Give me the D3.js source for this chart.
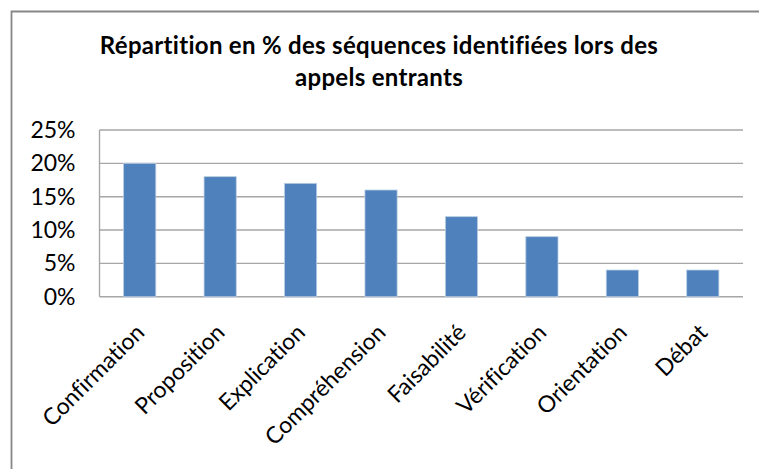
<!DOCTYPE html>
<html>
<head>
<meta charset="utf-8">
<script src="https://cdn.jsdelivr.net/npm/d3@7"></script>
<style>
  body { margin: 0; background: #fff; }
  text { font-family: Lato, "Open Sans", sans-serif; fill: #000; font-variant-ligatures: none; }
</style>
</head>
<body>
<div id="chart"></div>
<script>
// données du graphique
var categories = ['Confirmation', 'Proposition', 'Explication', 'Compréhension',
                  'Faisabilité', 'Vérification', 'Orientation', 'Débat'];
var values = [20, 18, 17, 16, 12, 9, 4, 4];
var yTicks = [0, 5, 10, 15, 20, 25];
var titleLines = ['Répartition en % des séquences identifiées lors des', 'appels entrants'];

var width = 759, height = 469;
var plot = { left: 99.5, right: 743, top: 130, bottom: 296.7 };

var svg = d3.select('#chart')
            .append('svg')
            .attr('width', width)
            .attr('height', height);

svg.append('rect')
   .attr('width', width).attr('height', height)
   .attr('fill', '#fff');

// cadre extérieur (coupé à droite et en bas)
svg.append('path')
   .attr('d', 'M11.5,' + (height + 5) + 'V11.5H' + (width + 5))
   .attr('fill', 'none')
   .attr('stroke', '#878787')
   .attr('stroke-width', 1.8);

// titre
svg.append('text')
   .attr('x', 379)
   .attr('y', 53.5)
   .attr('text-anchor', 'middle')
   .style('font-weight', 'bold')
   .style('font-size', '24px')
   .style('letter-spacing', '0.3px')
   .selectAll('tspan')
   .data(titleLines)
   .enter()
   .append('tspan')
   .attr('x', 379)
   .attr('dy', function(d, i){ return i == 0 ? 0 : 32; })
   .text(function(d){ return d; });

var x = d3.scaleBand()
          .domain(categories)
          .range([plot.left, plot.right])
          .paddingInner(0.6)
          .paddingOuter(0.3);

var y = d3.scaleLinear()
          .domain([0, 25])
          .range([plot.bottom, plot.top]);

// lignes de quadrillage
svg.append('g')
   .selectAll('line')
   .data(yTicks)
   .enter()
   .append('line')
   .attr('x1', plot.left)
   .attr('x2', plot.right)
   .attr('y1', function(d){ return y(d); })
   .attr('y2', function(d){ return y(d); })
   .attr('stroke', '#a6a6a6')
   .attr('stroke-width', 1.4);

// axe vertical
svg.append('g')
   .attr('transform', 'translate(' + (plot.left - 24) + ',0)')
   .call(d3.axisLeft(y).tickValues(yTicks).tickSize(0).tickPadding(0)
           .tickFormat(function(d){ return d + '%'; }))
   .call(function(g){ g.select('.domain').remove(); })
   .selectAll('text')
   .style('font-size', '23px')
   .attr('font-family', null);

svg.append('line')
   .attr('x1', plot.left).attr('x2', plot.left)
   .attr('y1', plot.top).attr('y2', plot.bottom)
   .attr('stroke', '#a6a6a6')
   .attr('stroke-width', 1.4);

// barres
svg.append('g')
   .selectAll('rect')
   .data(values)
   .enter()
   .append('rect')
   .attr('x', function(d, i){ return x(categories[i]); })
   .attr('y', function(d){ return y(d); })
   .attr('width', x.bandwidth())
   .attr('height', function(d){ return y(0) - y(d); })
   .attr('fill', '#4f81bd')
   .attr('stroke', '#b8cce4')
   .attr('stroke-width', 0.8);

// étiquettes des catégories
svg.append('g')
   .selectAll('text')
   .data(categories)
   .enter()
   .append('text')
   .attr('text-anchor', 'end')
   .attr('transform', function(d){
       return 'translate(' + (x(d) + x.bandwidth() / 2 + 6) + ',334) rotate(-45)';
   })
   .style('font-size', '23px')
   .text(function(d){ return d; });
</script>
</body>
</html>
